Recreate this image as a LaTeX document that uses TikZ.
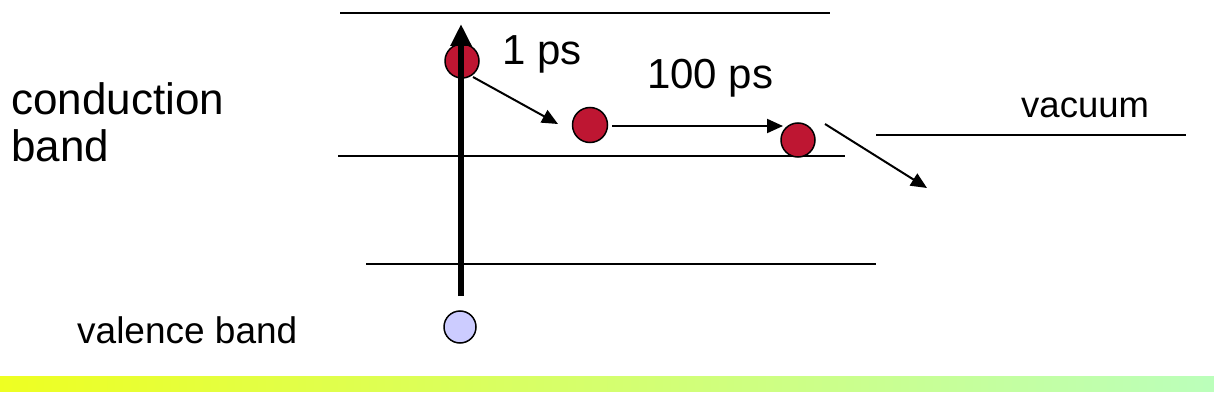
\documentclass[tikz,border=0pt]{standalone}
\usepackage{fontspec}
\setmainfont{Liberation Sans}
\usetikzlibrary{arrows.meta}
\definecolor{elec}{HTML}{BE1632}
\definecolor{hole}{HTML}{CCCCFF}
\definecolor{barL}{HTML}{EEFF22}
\definecolor{barR}{HTML}{BBFFBB}
\tikzset{
  level/.style={line width=2pt},
  electron/.style={circle, draw=black, line width=1.5pt, fill=elec, minimum size=34pt, inner sep=0pt},
  holedot/.style={circle, draw=black, line width=1.5pt, fill=hole, minimum size=32pt, inner sep=0pt},
  thinarrow/.style={line width=2pt, -{Triangle[length=16pt,width=14pt]}},
  thickarrow/.style={line width=6pt, -{Triangle[length=22pt,width=20pt]}},
  lbl/.style={anchor=base west, inner sep=0pt}
}
\newcommand{\sx}[2]{\fontsize{#1}{#1}\selectfont #2}
\begin{document}
\begin{tikzpicture}[x=1pt,y=-1pt]
\useasboundingbox (0,0) rectangle (1214,406);
% levels
\coordinate (t1) at (340,13);  \coordinate (t2) at (830,13);
\coordinate (m1) at (338,156); \coordinate (m2) at (845,156);
\coordinate (l1) at (366,264); \coordinate (l2) at (876,264);
\coordinate (v1) at (876,135); \coordinate (v2) at (1186,135);
\draw[level] (t1) -- (t2);
\draw[level] (m1) -- (m2);
\draw[level] (l1) -- (l2);
\draw[level] (v1) -- (v2);
% particles
\node[electron] (e1) at (462,61) {};
\node[electron, minimum size=35pt] (e2) at (590,125) {};
\node[electron, minimum size=34pt] (e3) at (798,140) {};
\node[holedot] (h) at (460,327) {};
% thick excitation arrow
\coordinate (up0) at (461,296);
\coordinate (up1) at (461,24);
\draw[thickarrow] (up0) -- (up1);
% relaxation arrows
\coordinate (a1s) at (473,77);  \coordinate (a1e) at (558,124);
\coordinate (a2s) at (612,126); \coordinate (a2e) at (783,126);
\coordinate (a3s) at (825,124); \coordinate (a3e) at (927,188);
\draw[thinarrow] (a1s) -- (a1e);
\draw[thinarrow] (a2s) -- (a2e);
\draw[thinarrow] (a3s) -- (a3e);
% labels
\node[lbl] (ps1) at (502,65) {\sx{42pt}{1 ps}};
\node[lbl] (ps100) at (647,89) {\sx{42pt}{100 ps}};
\node[lbl] (cond) at (11,115) {\sx{44pt}{conduction}};
\node[lbl] (band) at (11,162) {\sx{44pt}{band}};
\node[lbl] (vac) at (1021,118) {\sx{36.5pt}{vacuum}};
\node[lbl] (val) at (77,343) {\sx{37pt}{valence band}};
% bottom bar
\shade[left color=barL, right color=barR] (0,376) rectangle (1214,391);
\end{tikzpicture}
\end{document}
